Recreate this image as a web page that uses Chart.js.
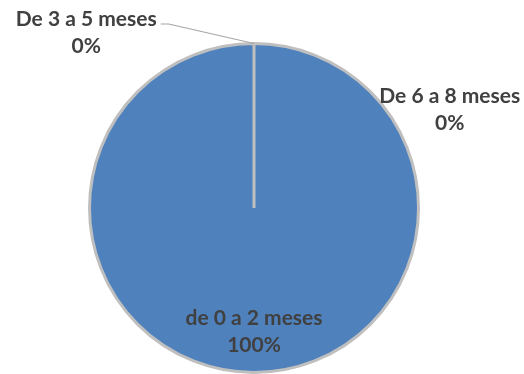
<!DOCTYPE html>
<html>
<head>
<meta charset="utf-8">
<script src="https://cdn.jsdelivr.net/npm/chart.js@4"></script>
<style>
  html, body { margin: 0; padding: 0; background: #fff; }
  #wrap { width: 524px; height: 374px; }
</style>
</head>
<body>
<div id="wrap"><canvas id="pieChart" width="524" height="374"></canvas></div>
<script>
// Datos
const categorias = ['de 0 a 2 meses', 'De 3 a 5 meses', 'De 6 a 8 meses'];
const porcentajes = [100, 0, 0];

// Posicion de etiquetas (en radios desde el centro) y si llevan linea guia
const etiquetaPos = [
    { dx: 0, dy: 0.75, guia: false },
    { dx: -1.02, dy: -1.07, guia: true },
    { dx: 1.19, dy: -0.6, guia: false }
];

const etiquetasPlugin = {
    id: 'etiquetas',
    afterDatasetsDraw(chart) {
        const ctx = chart.ctx;
        const meta = chart.getDatasetMeta(0);
        ctx.save();
        ctx.font = 'bold 21px Lato';
        ctx.fillStyle = '#404040';
        ctx.textAlign = 'center';
        ctx.textBaseline = 'middle';
        meta.data.forEach((arc, i) => {
            const cx = arc.x, cy = arc.y, r = arc.outerRadius;
            const p = etiquetaPos[i];
            const tx = cx + p.dx * r;
            const ty = cy + p.dy * r;
            const nombre = categorias[i];
            const pct = porcentajes[i] + '%';
            ctx.fillText(nombre, tx, ty - 13);
            ctx.fillText(pct, tx, ty + 14);
            if (p.guia) {
                const w = ctx.measureText(nombre).width;
                const ang = (arc.startAngle + arc.endAngle) / 2;
                ctx.strokeStyle = '#A6A6A6';
                ctx.lineWidth = 1.2;
                ctx.beginPath();
                ctx.moveTo(tx + w / 2 + 4, ty - 8);
                ctx.lineTo(tx + w / 2 + 12, ty - 8);
                ctx.lineTo(cx + Math.cos(ang) * r, cy + Math.sin(ang) * r);
                ctx.stroke();
            }
        });
        ctx.restore();
    }
};

new Chart(document.getElementById('pieChart'), {
    type: 'pie',
    data: {
        labels: categorias,
        datasets: [{
            data: porcentajes,
            backgroundColor: ['#4F81BD', '#C0504D', '#9BBB59'],
            borderColor: '#BFBFBF',
            borderWidth: 3
        }]
    },
    options: {
        responsive: false,
        animation: false,
        layout: { padding: { top: 42, bottom: 0, left: 88, right: 104 } },
        plugins: {
            legend: { display: false },
            tooltip: { enabled: false }
        }
    },
    plugins: [etiquetasPlugin]
});
</script>
</body>
</html>
